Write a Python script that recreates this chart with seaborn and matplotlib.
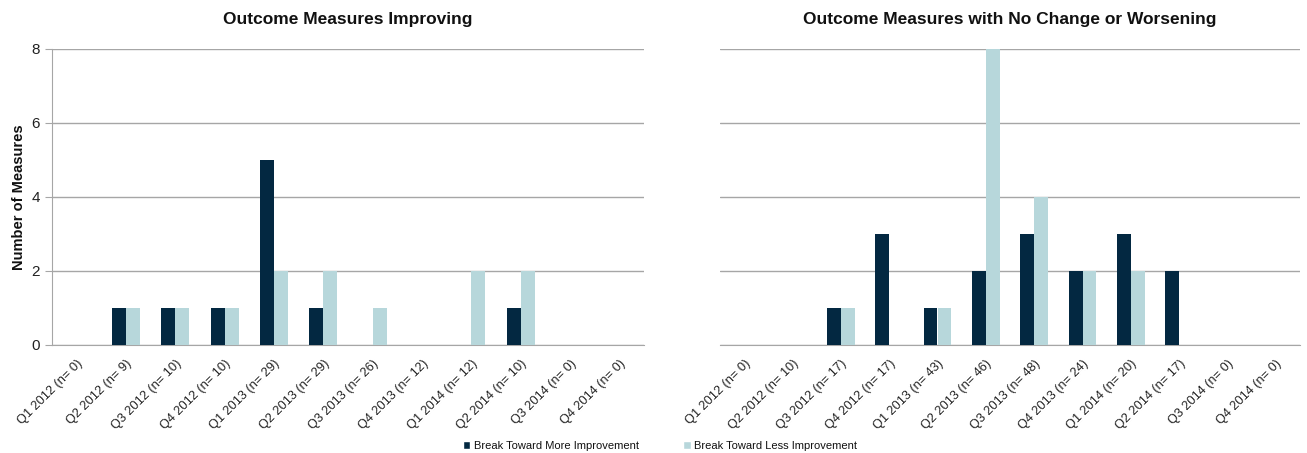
import pandas as pd
import seaborn as sns
from matplotlib import pyplot as plt
from matplotlib.patches import Patch

quarters = ["Q1 2012", "Q2 2012", "Q3 2012", "Q4 2012", "Q1 2013", "Q2 2013",
            "Q3 2013", "Q4 2013", "Q1 2014", "Q2 2014", "Q3 2014", "Q4 2014"]

# left panel: measures improving
n_improving = [0, 9, 10, 10, 29, 29, 26, 12, 12, 10, 0, 0]
more_improving = [0, 1, 1, 1, 5, 1, 0, 0, 0, 1, 0, 0]
less_improving = [0, 1, 1, 1, 2, 2, 1, 0, 2, 2, 0, 0]

# right panel: no change or worsening
n_worsening = [0, 10, 17, 17, 43, 46, 48, 24, 20, 17, 0, 0]
more_worsening = [0, 0, 1, 3, 1, 2, 3, 2, 3, 2, 0, 0]
less_worsening = [0, 0, 1, 0, 1, 8, 4, 2, 2, 0, 0, 0]

series = ["Break Toward More Improvement", "Break Toward Less Improvement"]
colors = {series[0]: "#032841", series[1]: "#B7D7DB"}

sns.set_style("white")
plt.rcParams["font.family"] = ["Liberation Sans", "DejaVu Sans"]
plt.rcParams["text.color"] = "#111111"
plt.rcParams["axes.labelcolor"] = "#111111"


def make_df(ns, more, less):
    labels = [f"{q} (n= {n})" for q, n in zip(quarters, ns)]
    rows = []
    for lab, m, l in zip(labels, more, less):
        rows.append({"Quarter": lab, "Series": series[0], "Count": m})
        rows.append({"Quarter": lab, "Series": series[1], "Count": l})
    return pd.DataFrame(rows), labels


fig = plt.figure(figsize=(13.07, 4.53), dpi=100)
ax1 = fig.add_axes([52 / 1307, 108 / 453, 592 / 1307, 296 / 453])
ax2 = fig.add_axes([720 / 1307, 108 / 453, 580 / 1307, 296 / 453])

panels = [
    (ax1, make_df(n_improving, more_improving, less_improving), "Outcome Measures Improving"),
    (ax2, make_df(n_worsening, more_worsening, less_worsening), "Outcome Measures with No Change or Worsening"),
]

for ax, (df, labels), title in panels:
    sns.barplot(data=df, x="Quarter", y="Count", hue="Series", order=labels,
                hue_order=series, palette=colors, width=0.57, gap=0,
                saturation=1, linewidth=0, legend=False, ax=ax, zorder=3)
    ax.set_ylim(0, 8)
    ax.set_yticks([0, 2, 4, 6, 8])
    ax.set_xlim(-0.5, len(labels) - 0.5)
    ax.yaxis.grid(True, color="#A6A6A6", linewidth=1, zorder=0)
    ax.set_axisbelow(True)
    ax.set_xticks(range(len(labels)))
    ax.set_xticklabels(labels, rotation=45, ha="right", rotation_mode="anchor",
                       fontsize=9.2, color="#222222")
    ax.set_xticks([i - 0.5 for i in range(len(labels) + 1)], minor=True)
    ax.tick_params(axis="x", which="major", length=0, pad=9)
    ax.tick_params(axis="x", which="minor", length=5, color="#A6A6A6", direction="out")
    ax.set_xlabel("")
    ax.set_title(title, fontsize=12.5, fontweight="bold", pad=18, color="#111111")
    for s in ["top", "right"]:
        ax.spines[s].set_visible(False)
    ax.spines["bottom"].set_color("#A6A6A6")
    ax.spines["left"].set_color("#A6A6A6")

ax1.set_ylabel("Number of Measures", fontsize=10.5, fontweight="bold")
ax1.tick_params(axis="y", labelsize=11, length=5, color="#A6A6A6", left=True,
                labelcolor="#222222", direction="out")
ax2.set_ylabel("")
ax2.spines["left"].set_visible(False)
ax2.tick_params(axis="y", left=False, labelleft=False)

handles = [Patch(facecolor=colors[s], label=s) for s in series]
fig.legend(handles=handles, loc="center", bbox_to_anchor=(0.505, 0.016),
           ncol=2, frameon=False, fontsize=8, handlelength=0.7, handleheight=0.7,
           handletextpad=0.3, columnspacing=4)

fig.savefig("out.png", dpi=100)
